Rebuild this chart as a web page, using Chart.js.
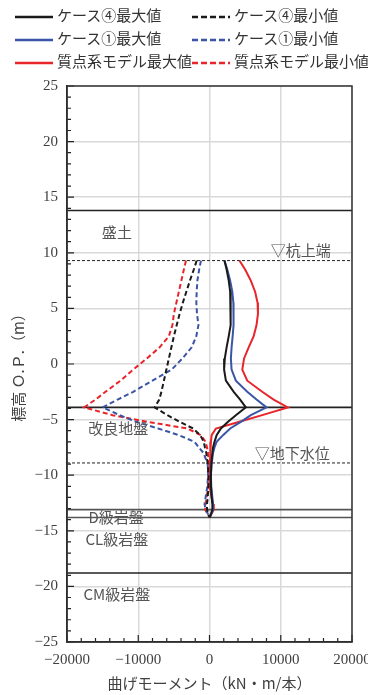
<!DOCTYPE html>
<html>
<head>
<meta charset="utf-8">
<script src="https://cdn.jsdelivr.net/npm/chart.js@4.4.0/dist/chart.umd.min.js"></script>
<style>
  html, body { margin: 0; padding: 0; background: #fff; }
  #wrap { position: relative; width: 368px; height: 695px; }
  #legend { position: absolute; left: 0; top: 0; width: 368px; height: 75px;
            font-family: "Noto Sans CJK JP", sans-serif; font-size: 15px; color: #333; }
  .item { position: absolute; height: 20px; line-height: 20px; white-space: nowrap; }
  .item svg { vertical-align: middle; margin-right: 4px; }
</style>
</head>
<body>
<div id="wrap">
  <canvas id="c" width="368" height="695"></canvas>
  <div id="legend"></div>
</div>
<script>
// elevation O.P. (m), shared by every curve
const elevations = [9.3, 8.5, 7.5, 6.5, 5.5, 4.5, 3.5, 2.5, 1.5, 0.5, -0.5, -1.5, -2.5, -3.2, -3.9,
  -4.6, -5.2, -5.8, -6.4, -7, -7.5, -8, -9, -10, -11, -12, -12.6, -13.1, -13.8];

// bending moment (kN・m/本)
const case4Max = [2100, 2400, 2700, 2900, 3000, 3000, 2900, 2700, 2400, 2150, 2050, 2300, 3400, 4300, 5100,
  3700, 2600, 1600, 1000, 700, 500, 400, 250, 200, 200, 300, 400, 400, 50];
const case4Min = [-1800, -2200, -2750, -3250, -3750, -4200, -4600, -5000, -5350, -5700, -6050, -6400, -6750, -7050, -7700,
  -5900, -4200, -2300, -1300, -800, -650, -450, -250, -150, -150, -250, -350, -350, 0];
const case1Max = [2100, 2500, 2900, 3200, 3350, 3400, 3350, 3250, 3100, 3000, 3100, 3700, 5300, 6600, 8000,
  5800, 4400, 2900, 1900, 1000, 700, 500, 300, 200, 250, 400, 500, 500, 50];
const case1Min = [-1200, -1450, -1700, -1800, -1850, -1750, -1550, -1850, -2500, -3800, -5300, -8000, -10700, -12900, -15000,
  -12600, -10300, -7200, -4300, -2100, -1500, -850, -250, -200, -300, -550, -700, -500, 0];
const massMax = [4200, 5000, 5800, 6400, 6750, 6800, 6600, 6200, 5500, 4850, 4600, 5300, 7400, 9000, 11000,
  7400, 4200, 900, 300, 200, 150, 100, 50, 0, 50, 300, 500, 600, 0];
const massMin = [-3300, -3600, -3950, -4300, -4650, -5000, -5200, -5700, -7000, -8800, -10700, -12500, -14600, -16000, -17600,
  -13600, -8700, -3100, -1200, -550, -350, -200, -100, -100, -200, -400, -550, -600, 0];

const seriesNames = ['ケース④最大値', 'ケース④最小値', 'ケース①最大値', 'ケース①最小値', '質点系モデル最大値', '質点系モデル最小値'];
const seriesValues = [case4Max, case4Min, case1Max, case1Min, massMax, massMin];
const seriesColors = ['#1a1a1a', '#1a1a1a', '#3b55a6', '#3b55a6', '#e8252b', '#e8252b'];
const seriesDashed = [false, true, false, true, false, true];

// ground layer boundaries and marker lines
const boundaryLevels = [13.8, 9.3, -3.9, -8.9, -13.1, -13.8, -18.8];
const boundaryDashed = [false, true, false, true, false, false, false];
const boundaryColors = ['#222', '#222', '#222', '#222', '#555', '#555', '#222'];

// layer names
const layerTexts = ['盛土', '▽杭上端', '改良地盤', '▽地下水位', 'D級岩盤', 'CL級岩盤', 'CM級岩盤'];
const layerX = [-13000, 12800, -12800, 11600, -13100, -13000, -13000];
const layerY = [11.8, 10.2, -5.8, -8.0, -13.8, -15.8, -20.7];

const xTicks = [-20000, -10000, 0, 10000, 20000];
const yTicks = [-25, -20, -15, -10, -5, 0, 5, 10, 15, 20, 25];

const curveSets = seriesNames.map((name, i) => ({
  label: name,
  data: elevations.map((e, k) => ({ x: seriesValues[i][k], y: e })),
  showLine: true,
  borderColor: seriesColors[i],
  borderWidth: 2,
  borderDash: seriesDashed[i] ? [5, 3] : [],
  pointRadius: 0,
  tension: 0,
  fill: false
}));

const lineSets = boundaryLevels.map((lvl, i) => ({
  label: '',
  data: [{ x: xTicks[0], y: lvl }, { x: xTicks[xTicks.length - 1], y: lvl }],
  showLine: true,
  borderColor: boundaryColors[i],
  borderWidth: boundaryDashed[i] ? 1 : 1.6,
  borderDash: boundaryDashed[i] ? [3, 2] : [],
  pointRadius: 0,
  isBoundary: true
}));

const minus = v => String(v).replace('-', '\u2212');

const framePlugin = {
  id: 'frame',
  afterDraw(chart) {
    const { ctx, chartArea: a, scales: { x, y } } = chart;
    ctx.save();
    ctx.strokeStyle = '#222';
    ctx.lineWidth = 1.2;
    ctx.beginPath();
    for (let v = -25; v <= 25; v++) {
      const py = y.getPixelForValue(v);
      const len = v % 5 === 0 ? 7 : 4;
      ctx.moveTo(a.left, py); ctx.lineTo(a.left + len, py);
    }
    for (let v = -20000; v <= 20000; v += 2000) {
      const px = x.getPixelForValue(v);
      const len = v % 10000 === 0 ? 7 : 4;
      ctx.moveTo(px, a.bottom); ctx.lineTo(px, a.bottom - len);
    }
    ctx.stroke();
    ctx.strokeStyle = '#333';
    ctx.lineWidth = 1.5;
    ctx.strokeRect(a.left, a.top, a.right - a.left, a.bottom - a.top);

    ctx.fillStyle = '#555';
    ctx.font = '15px "Noto Sans CJK JP"';
    ctx.textAlign = 'center';
    ctx.textBaseline = 'middle';
    layerTexts.forEach((t, i) => {
      ctx.fillText(t, x.getPixelForValue(layerX[i]), y.getPixelForValue(layerY[i]));
    });
    ctx.restore();
  }
};

const chart = new Chart(document.getElementById('c'), {
  type: 'scatter',
  data: { datasets: curveSets.concat(lineSets) },
  options: {
    responsive: false,
    animation: false,
    layout: { padding: { top: 86, right: 16, left: 0, bottom: 0 } },
    plugins: { legend: { display: false }, tooltip: { enabled: false } },
    scales: {
      x: {
        type: 'linear', min: -20000, max: 20000,
        afterBuildTicks: s => { s.ticks = xTicks.map(v => ({ value: v })); },
        afterFit: s => { s.height = 53; s.paddingLeft = 0; s.paddingRight = 0; },
        ticks: { padding: 9, color: '#404040', font: { family: 'Liberation Serif', size: 15 }, callback: minus, maxRotation: 0 },
        grid: { color: '#d9d9d9', lineWidth: 1.5, drawTicks: false },
        border: { color: '#222', width: 1.5 },
        title: { display: true, text: '曲げモーメント（kN・m/本）', color: '#404040',
                 font: { family: 'Noto Sans CJK JP', size: 15 }, padding: { top: 0, bottom: 3 } }
      },
      y: {
        type: 'linear', min: -25, max: 25,
        afterBuildTicks: s => { s.ticks = yTicks.map(v => ({ value: v })); },
        afterFit: s => { s.width = 67; s.paddingTop = 0; s.paddingBottom = 0; },
        ticks: { padding: 9, color: '#404040', font: { family: 'Liberation Serif', size: 15 }, callback: minus },
        grid: { color: '#d9d9d9', lineWidth: 1.5, drawTicks: false },
        border: { color: '#222', width: 1.5 },
        title: { display: true, text: '標高 Ｏ.Ｐ.（m）', color: '#404040',
                 font: { family: 'Noto Sans CJK JP', size: 15 }, padding: { top: 9, bottom: 0 } }
      }
    }
  },
  plugins: [framePlugin]
});

// legend in two columns built from the chart's own datasets
const legend = document.getElementById('legend');
const colLeft = [15, 192];
const rowMid = [15, 38, 61];
chart.data.datasets.filter(d => !d.isBoundary).forEach((d, i) => {
  const el = document.createElement('div');
  el.className = 'item';
  el.style.left = colLeft[i % 2] + 'px';
  el.style.top = (rowMid[Math.floor(i / 2)] - 10) + 'px';
  const dash = d.borderDash.length ? 'stroke-dasharray="6 3"' : '';
  el.innerHTML = '<svg width="38" height="6"><line x1="0" y1="3" x2="38" y2="3" stroke="' + d.borderColor +
    '" stroke-width="2.6" ' + dash + '/></svg>' + d.label;
  legend.appendChild(el);
});
</script>
</body>
</html>
